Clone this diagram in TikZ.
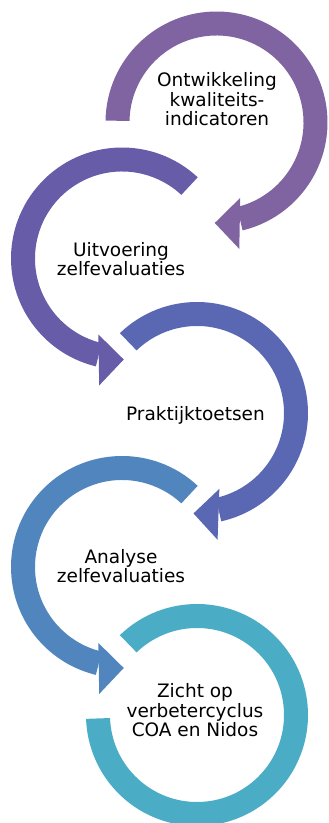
\documentclass[tikz,border=0pt]{standalone}
\usepackage{fontspec}
\setmainfont{DejaVu Sans}
\definecolor{kleurA}{HTML}{8064A2}
\definecolor{kleurB}{HTML}{675CA8}
\definecolor{kleurC}{HTML}{5A68B4}
\definecolor{kleurD}{HTML}{5085BE}
\definecolor{kleurE}{HTML}{4BACC6}
\begin{document}
\begin{tikzpicture}[x=1pt,y=1pt,
    tekst/.style={align=center,anchor=base,inner sep=0pt,font=\fontsize{18.5}{19.5}\selectfont}]
  \useasboundingbox (0,0) rectangle (329,823);

  % Middelpunten
  \coordinate (m1) at (216.5,700.5);
  \coordinate (m2) at (122,564.5);
  \coordinate (m3) at (197,410);
  \coordinate (m4) at (122,256);
  \coordinate (m5) at (197,108);

  % Pijl 1 (met de klok mee)
  \begin{scope}[shift={(m1)}]
    \fill[kleurA] (179:111) arc[start angle=179,end angle=-76.4,radius=111]
      -- (-76.4:87) arc[start angle=-76.4,end angle=179,radius=87] -- cycle;
    \fill[kleurA,rotate=-91] (100.5,0) -- (75,25) -- (126,25) -- cycle;
  \end{scope}

  % Pijl 2 (tegen de klok in)
  \begin{scope}[shift={(m2)}]
    \fill[kleurB] (47:111) arc[start angle=47,end angle=256.4,radius=111]
      -- (256.4:87) arc[start angle=256.4,end angle=47,radius=87] -- cycle;
    \fill[kleurB,rotate=271] (101,0) -- (75.5,-25) -- (126.5,-25) -- cycle;
  \end{scope}

  % Pijl 3
  \begin{scope}[shift={(m3)}]
    \fill[kleurC] (134:111) arc[start angle=134,end angle=-77.4,radius=111]
      -- (-77.4:87) arc[start angle=-77.4,end angle=134,radius=87] -- cycle;
    \fill[kleurC,rotate=-92] (100.5,0) -- (75,25) -- (126,25) -- cycle;
  \end{scope}

  % Pijl 4
  \begin{scope}[shift={(m4)}]
    \fill[kleurD] (47:111) arc[start angle=47,end angle=256.4,radius=111]
      -- (256.4:87) arc[start angle=256.4,end angle=47,radius=87] -- cycle;
    \fill[kleurD,rotate=271] (101,0) -- (75.5,-25) -- (126.5,-25) -- cycle;
  \end{scope}

  % Laatste ring, zonder punt
  \begin{scope}[shift={(m5)}]
    \fill[kleurE] (134:111) arc[start angle=134,end angle=-178,radius=111]
      -- (-178:87) arc[start angle=-178,end angle=134,radius=87] -- cycle;
  \end{scope}

  % Teksten (anker op de laatste regel)
  \node[tekst] (t1) at (217,697) {Ontwikkeling\\kwaliteits-\\indicatoren};
  \node[tekst] (t2) at (121,547) {Uitvoering\\zelfevaluaties};
  \node[tekst] (t3) at (195.5,402.3) {Praktijktoetsen};
  \node[tekst] (t4) at (121,240) {Analyse\\zelfevaluaties};
  \node[tekst] (t5) at (195,86) {Zicht op\\verbetercyclus\\COA en Nidos};
\end{tikzpicture}
\end{document}
